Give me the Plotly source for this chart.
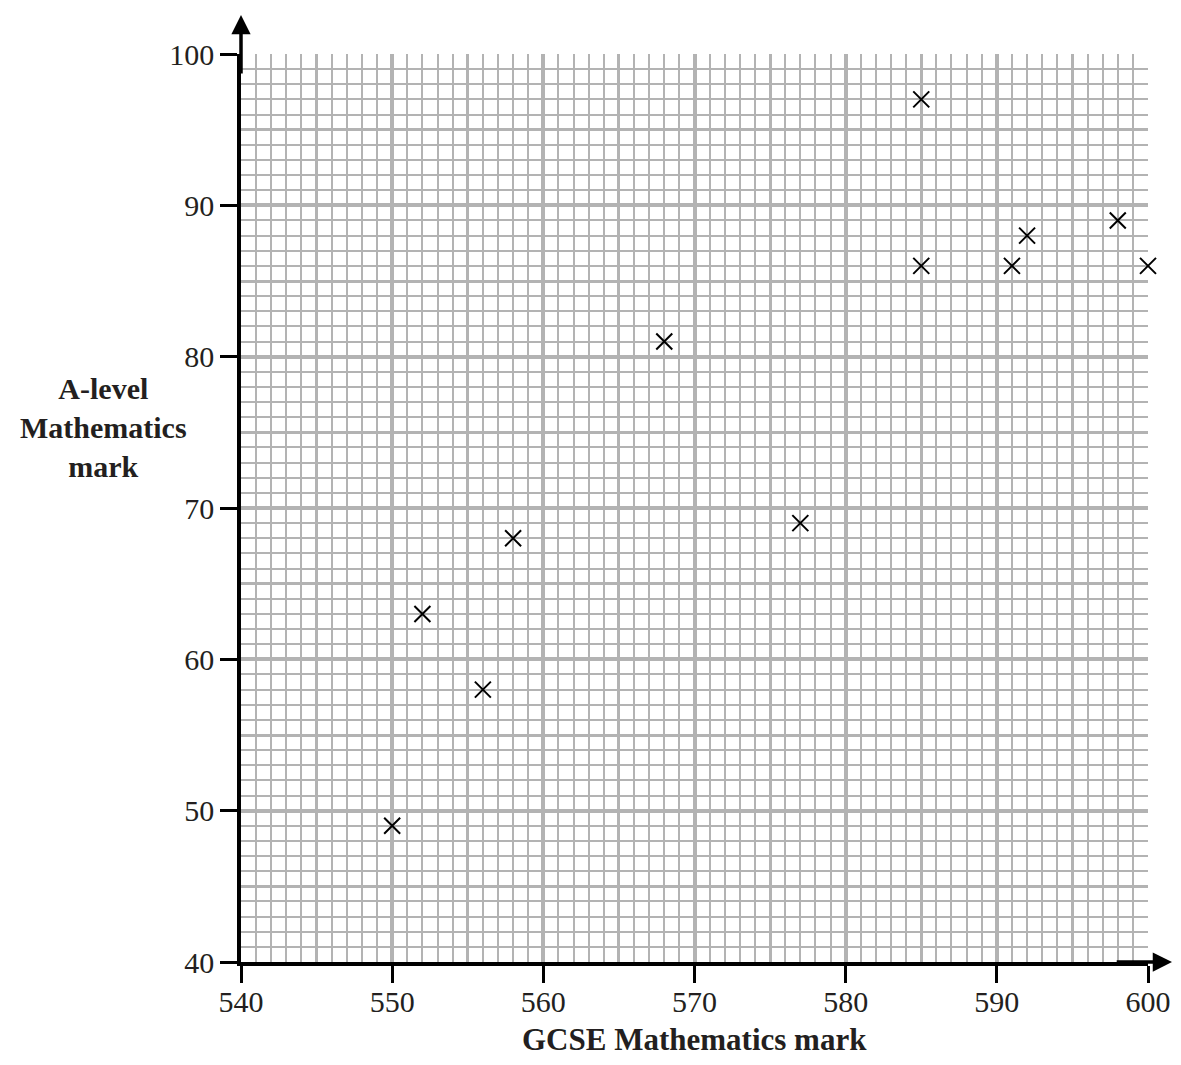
import plotly.graph_objects as go

gcse = [550, 552, 556, 558, 568, 577, 585, 585, 591, 592, 598, 600]
alevel = [49, 63, 58, 68, 81, 69, 97, 86, 86, 88, 89, 86]

x_range = [540, 600]
y_range = [40, 100]
five_x = list(range(540, 601, 5))
five_y = list(range(40, 101, 5))

GRID = "#b3b3b3"
FONT = "Liberation Serif"
TXT = "#231f20"

fig = go.Figure()
fig.add_trace(go.Scatter(x=[x_range[0]], y=[y_range[0]], xaxis="x2", yaxis="y2",
                         mode="markers", marker=dict(opacity=0), hoverinfo="skip",
                         showlegend=False))
fig.add_trace(go.Scatter(x=gcse, y=alevel, mode="markers", cliponaxis=False,
                         marker=dict(symbol="x-thin-open", size=16, color="black",
                                     line=dict(color="black", width=2)),
                         showlegend=False))

fig.update_layout(
    width=1165, height=1049,
    margin=dict(l=233, r=25, t=46, b=95, autoexpand=False),
    paper_bgcolor="white", plot_bgcolor="white",
    font=dict(family=FONT, size=30, color=TXT),
    xaxis=dict(range=x_range, tick0=540, dtick=10, showgrid=True, gridcolor=GRID,
               gridwidth=3.5, ticks="outside", ticklen=17, tickwidth=3, tickcolor="black",
               showline=True, linecolor="black", linewidth=3.5, zeroline=False,
               automargin=False, ticklabelstandoff=-7,
               minor=dict(dtick=1, showgrid=True, gridcolor=GRID, gridwidth=1.5, ticks=""),
               tickfont=dict(family=FONT, size=30, color=TXT)),
    yaxis=dict(range=y_range, tick0=40, dtick=10, showgrid=True, gridcolor=GRID,
               gridwidth=3.5, ticks="outside", ticklen=17, tickwidth=3, tickcolor="black",
               showline=True, linecolor="black", linewidth=3.5, zeroline=False,
               automargin=False,
               minor=dict(dtick=1, showgrid=True, gridcolor=GRID, gridwidth=1.5, ticks=""),
               tickfont=dict(family=FONT, size=30, color=TXT)),
    xaxis2=dict(range=x_range, overlaying="x", tickvals=five_x, showgrid=True,
                gridcolor=GRID, gridwidth=2.5, showticklabels=False, ticks="",
                zeroline=False, showline=False, automargin=False),
    yaxis2=dict(range=y_range, overlaying="y", tickvals=five_y, showgrid=True,
                gridcolor=GRID, gridwidth=2.5, showticklabels=False, ticks="",
                zeroline=False, showline=False, automargin=False),
)

# axis arrows (paper coordinates so they are not hidden outside the range)
fig.add_annotation(x=0, y=1.043, xref="paper", yref="paper", ax=0, ay=60,
                   showarrow=True, arrowhead=2, arrowsize=1.1, arrowwidth=3.5,
                   arrowcolor="black", text="")
fig.add_annotation(x=1.03, y=0, xref="paper", yref="paper", ax=-60, ay=0,
                   showarrow=True, arrowhead=2, arrowsize=1.1, arrowwidth=3.5,
                   arrowcolor="black", text="")

# axis titles
fig.add_annotation(x=-0.152, y=75.3, xref="paper", yref="y", showarrow=False,
                   text="<b>A-level<br>Mathematics<br>mark</b>",
                   font=dict(family=FONT, size=30, color=TXT), align="center",
                   xanchor="center", yanchor="middle")
fig.add_annotation(x=0.5, y=-0.085, xref="paper", yref="paper", showarrow=False,
                   text="<b>GCSE Mathematics mark</b>",
                   font=dict(family=FONT, size=31, color=TXT),
                   xanchor="center", yanchor="middle")

fig.write_html("out.html")
